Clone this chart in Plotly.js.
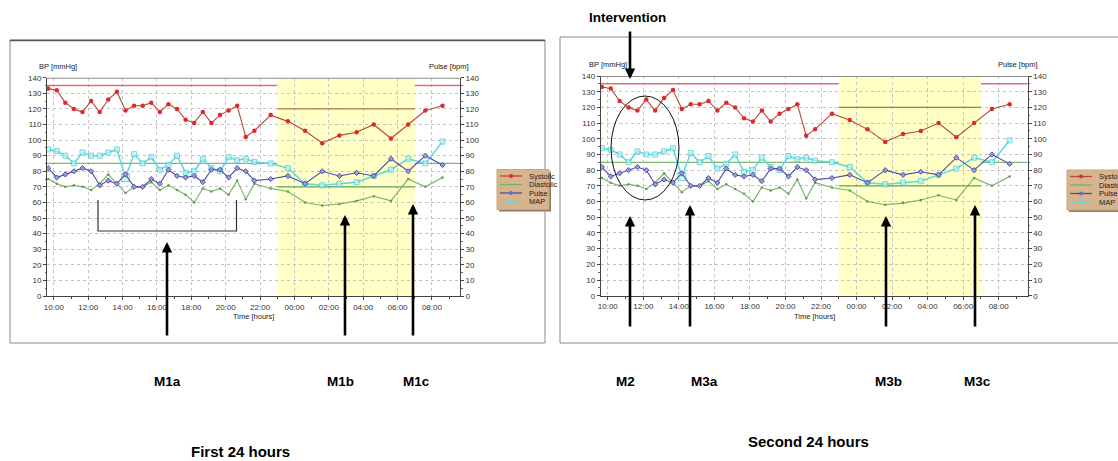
<!DOCTYPE html>
<html><head><meta charset="utf-8">
<script src="https://cdn.plot.ly/plotly-3.0.1.min.js"></script>
<style>html,body{margin:0;padding:0;background:#fff;}#chart{width:1118px;height:461px;}</style>
</head><body><div id="chart"></div>
<script>
// ---------------- data ----------------
const seriesNames = ['Systolic', 'Diastolic', 'Pulse', 'MAP'];
const times = ['09:40','10:10','10:40','11:10','11:40','12:10','12:40','13:10','13:40','14:10',
               '14:40','15:10','15:40','16:10','16:40','17:10','17:40','18:10','18:40','19:10',
               '19:40','20:10','20:40','21:10','21:40','22:37','23:37','00:37','01:37','02:37',
               '03:37','04:37','05:37','06:37','07:37','08:37'];
const systolic  = [133,132,124,120,118,125,118,126,131,119,122,122,124,118,123,120,113,111,118,111,
                   116,119,122,102,106,116,112,106,98,103,105,110,101,110,119,122];
const diastolic = [75,72,70,71,70,68,72,78,72,66,70,70,73,68,71,68,65,60,69,67,
                   69,65,74,62,72,69,67,60,58,59,61,64,61,75,70,76];
const pulse     = [82,76,78,80,82,80,71,74,72,78,70,70,75,72,81,77,76,77,73,81,
                   81,76,82,80,74,75,77,72,80,77,79,77,88,80,90,84];
const meanArterial = [94,93,90,85,92,90,90,92,94,76,91,85,89,81,84,90,79,80,88,82,
                   80,89,87,88,86,85,82,72,71,72,73,77,81,88,85,99];
const tickLabels = ['10:00','12:00','14:00','16:00','18:00','20:00','22:00','00:00','02:00','04:00','06:00','08:00'];
const dayLimits   = [135, 85];   // systolic, diastolic
const nightLimits = [120, 70];
const nightPeriod = ['23:00', '07:00'];
const axisRange   = ['2000-01-01 09:36', '2000-01-02 09:38'];
const yTitles = ['BP [mmHg]', 'Pulse [bpm]'];
const xTitle = 'Time [hours]';
const panelTitles = ['First 24 hours', 'Second 24 hours'];
const markerLabels = ['M1a', 'M1b', 'M1c', 'M2', 'M3a', 'M3b', 'M3c'];
const interventionLabel = 'Intervention';

// ---------------- helpers ----------------
const W = 1118, H = 461;
const px = x => x / W;
const py = y => 1 - y / H;
function toDate(t) {
  const h = parseInt(t.split(':')[0], 10);
  return (h < 9 ? '2000-01-02 ' : '2000-01-01 ') + t;
}
const xs = times.map(toDate);
const nightStart = toDate(nightPeriod[0]), nightEnd = toDate(nightPeriod[1]);
const FONT = 'Liberation Sans, Arial, sans-serif';

const colors = {
  sysLine: '#b5483c', sysMark: '#e02a2a',
  diaLine: '#74b266', diaMark: '#5aa04e',
  pulLine: '#4c4ca6', pulMark: '#9a9ade',
  mapLine: '#5ad9e0', mapMark: '#bff2f5'
};

const traces = [];
const shapes = [];
const annotations = [];

[0, 1].forEach(p => {
  const xa = p ? 'x2' : 'x';
  const ya = p ? 'y2' : 'y';
  const yr = p ? 'y4' : 'y3';
  traces.push({
    x: xs, y: systolic, name: seriesNames[0], xaxis: xa, yaxis: ya, mode: 'lines+markers',
    line: {color: colors.sysLine, width: 1.1},
    marker: {symbol: 'circle', size: 4.5, color: colors.sysMark}, showlegend: false
  });
  traces.push({
    x: xs, y: diastolic, name: seriesNames[1], xaxis: xa, yaxis: ya, mode: 'lines+markers',
    line: {color: colors.diaLine, width: 1.1},
    marker: {symbol: 'circle', size: 2.5, color: colors.diaMark}, showlegend: false
  });
  traces.push({
    x: xs, y: meanArterial, name: seriesNames[3], xaxis: xa, yaxis: ya, mode: 'lines+markers',
    line: {color: colors.mapLine, width: 1.5},
    marker: {symbol: 'square', size: meanArterial.map((v, i) => i === 9 ? 8 : 5),
             color: colors.mapMark, line: {color: '#40c8d0', width: 1}}, showlegend: false
  });
  traces.push({
    x: xs, y: pulse, name: seriesNames[2], xaxis: xa, yaxis: yr, mode: 'lines+markers',
    line: {color: colors.pulLine, width: 1.1},
    marker: {symbol: 'diamond', size: 4, color: colors.pulMark, line: {color: '#3a3a90', width: 0.8}},
    showlegend: false
  });

  // night shading
  shapes.push({type: 'rect', xref: xa, yref: ya, x0: nightStart, x1: nightEnd, y0: 0, y1: 140,
               fillcolor: '#ffffc6', line: {width: 0}, layer: 'below'});
  // limit lines
  const seg = (x0, x1, y, c, w) => shapes.push({type: 'line', xref: xa, yref: ya, x0, x1, y0: y, y1: y,
               line: {color: c, width: w}, layer: 'between'});
  seg(axisRange[0], nightStart, dayLimits[0], '#e07070', 1.5);
  seg(nightEnd, axisRange[1], dayLimits[0], '#e07070', 1.5);
  seg(nightStart, nightEnd, nightLimits[0], '#a87a40', 1.4);
  seg(axisRange[0], nightStart, dayLimits[1], '#80b872', 1.2);
  seg(nightEnd, axisRange[1], dayLimits[1], '#80b872', 1.2);
  seg(nightStart, nightEnd, nightLimits[1], '#62a656', 1.2);
  // top frame
  shapes.push({type: 'line', xref: xa + ' domain', yref: ya, x0: 0, x1: 1, y0: 140, y1: 140,
               line: {color: '#8c8c8c', width: 2}, layer: 'above'});
});

// panel borders
shapes.push({type: 'rect', xref: 'paper', yref: 'paper', x0: px(10), x1: px(545), y0: py(343), y1: py(40),
             line: {color: '#8a8a8a', width: 1}});
shapes.push({type: 'line', xref: 'paper', yref: 'paper', x0: px(10), x1: px(545), y0: py(40.5), y1: py(40.5),
             line: {color: '#555', width: 1.5}});
shapes.push({type: 'rect', xref: 'paper', yref: 'paper', x0: px(560), x1: px(1130), y0: py(343), y1: py(37),
             line: {color: '#8a8a8a', width: 1}});

// axis-title texts inside each panel
const panelGeo = [
  {bpX: 37, pulX: 471, y: 67, timeX: 253},
  {bpX: 587, pulX: 1040, y: 65, timeX: 814}
];
panelGeo.forEach(g => {
  annotations.push({xref: 'paper', yref: 'paper', x: px(g.bpX), y: py(g.y), text: yTitles[0], showarrow: false,
                    xanchor: 'left', yanchor: 'middle', font: {family: FONT, size: 7.5, color: '#222'}});
  annotations.push({xref: 'paper', yref: 'paper', x: px(g.pulX), y: py(g.y), text: yTitles[1], showarrow: false,
                    xanchor: 'right', yanchor: 'middle', font: {family: FONT, size: 7.5, color: '#222'}});
  annotations.push({xref: 'paper', yref: 'paper', x: px(g.timeX), y: py(316), text: xTitle, showarrow: false,
                    xanchor: 'center', yanchor: 'middle', font: {family: FONT, size: 7.5, color: '#222'}});
});

// manual legends (the right one runs off the page edge, as in the reference)
const legendStyle = [
  {line: colors.sysLine, mark: colors.sysMark},
  {line: colors.diaLine, mark: null},
  {line: colors.pulLine, mark: '#6a6ac8'},
  {line: colors.mapLine, mark: '#5ee0e6'}
];
[{x: 497, y: 169.5, w: 52}, {x: 1067, y: 170, w: 70}].forEach(b => {
  shapes.push({type: 'rect', xref: 'paper', yref: 'paper', x0: px(b.x + 2), x1: px(b.x + b.w + 2),
               y0: py(b.y + 42), y1: py(b.y + 2), fillcolor: '#8f7f66', line: {width: 0}});
  shapes.push({type: 'rect', xref: 'paper', yref: 'paper', x0: px(b.x), x1: px(b.x + b.w),
               y0: py(b.y + 40), y1: py(b.y), fillcolor: '#d7b48e', line: {color: '#c9a57d', width: 1}});
  seriesNames.forEach((n, i) => {
    const ry = b.y + 6.5 + i * 8.5;
    const st = legendStyle[i];
    shapes.push({type: 'line', xref: 'paper', yref: 'paper', x0: px(b.x + 3), x1: px(b.x + 25),
                 y0: py(ry), y1: py(ry), line: {color: st.line, width: 1.3}});
    if (st.mark) {
      shapes.push({type: 'circle', xref: 'paper', yref: 'paper', x0: px(b.x + 12), x1: px(b.x + 16),
                   y0: py(ry + 2), y1: py(ry - 2), fillcolor: st.mark, line: {color: st.mark, width: 0}});
    }
    annotations.push({xref: 'paper', yref: 'paper', x: px(b.x + 30), y: py(ry), text: n, showarrow: false,
                      xanchor: 'left', yanchor: 'middle', font: {family: FONT, size: 7.5, color: '#222'}});
  });
});

// bracket (left panel) and ellipse (right panel)
shapes.push({type: 'path', xref: 'paper', yref: 'paper',
             path: `M ${px(98)},${py(200)} L ${px(98)},${py(231)} L ${px(236.5)},${py(231)} L ${px(236.5)},${py(200)}`,
             line: {color: '#333', width: 1.2}});
shapes.push({type: 'circle', xref: 'paper', yref: 'paper', x0: px(611), x1: px(679), y0: py(200), y1: py(96),
             line: {color: '#111', width: 1}});

// arrows
function arrow(xTip, yTip, yTail) {
  annotations.push({xref: 'paper', yref: 'paper', x: px(xTip), y: py(yTip), ax: 0, ay: yTail - yTip,
                    text: '', showarrow: true, arrowhead: 2, arrowwidth: 2.6, arrowsize: 0.8,
                    arrowcolor: '#000', standoff: 0});
}
arrow(167, 242, 337);
arrow(345, 215, 337);
arrow(413, 204, 337);
arrow(630, 216, 328);
arrow(690, 205, 328);
arrow(886, 216, 328);
arrow(975, 205, 328);
arrow(630, 79, 30);

// bold labels
const labelPos = [[167, 381], [340, 381], [416, 381], [625, 381], [704, 381], [888, 381], [977, 381]];
markerLabels.forEach((t, i) => {
  annotations.push({xref: 'paper', yref: 'paper', x: px(labelPos[i][0]), y: py(labelPos[i][1]), text: '<b>' + t + '</b>',
                    showarrow: false, xanchor: 'center', yanchor: 'middle', font: {family: FONT, size: 13.5, color: '#000'}});
});
annotations.push({xref: 'paper', yref: 'paper', x: px(627), y: py(18), text: '<b>' + interventionLabel + '</b>',
                  showarrow: false, xanchor: 'center', yanchor: 'middle', font: {family: FONT, size: 13.5, color: '#000'}});
annotations.push({xref: 'paper', yref: 'paper', x: px(240), y: py(451), text: '<b>' + panelTitles[0] + '</b>',
                  showarrow: false, xanchor: 'center', yanchor: 'middle', font: {family: FONT, size: 15, color: '#000'}});
annotations.push({xref: 'paper', yref: 'paper', x: px(808), y: py(441), text: '<b>' + panelTitles[1] + '</b>',
                  showarrow: false, xanchor: 'center', yanchor: 'middle', font: {family: FONT, size: 15, color: '#000'}});

// ---------------- axes ----------------
const tickFont = {family: FONT, size: 8, color: '#333'};
function xAxis(d0, d1, anchor) {
  return {
    type: 'date', domain: [px(d0), px(d1)], anchor, range: axisRange,
    tickmode: 'array', tickvals: tickLabels.map(toDate), ticktext: tickLabels,
    ticks: 'outside', ticklen: 3, tickcolor: '#444', tickfont: tickFont,
    showgrid: true, gridcolor: '#c4c4c4', griddash: 'dot', gridwidth: 1,
    showline: true, linecolor: '#444', linewidth: 1, zeroline: false,
    minor: {tick0: '2000-01-01 09:00', dtick: 3600000, ticks: 'outside', ticklen: 2, tickcolor: '#444', showgrid: false},
    fixedrange: true
  };
}
function yAxis(top, bottom, anchor, extra) {
  return Object.assign({
    domain: [py(bottom), py(top)], anchor, range: [0, 140], dtick: 10, tick0: 0,
    ticks: 'outside', ticklen: 3, tickcolor: '#444', tickfont: tickFont,
    showgrid: true, gridcolor: '#c4c4c4', griddash: 'dot', gridwidth: 1,
    showline: true, linecolor: '#444', linewidth: 1, zeroline: false,
    minor: {dtick: 5, ticks: 'outside', ticklen: 1.5, tickcolor: '#666', showgrid: false},
    fixedrange: true
  }, extra || {});
}

const layout = {
  width: W, height: H, margin: {l: 0, r: 0, t: 0, b: 0},
  paper_bgcolor: '#ffffff', plot_bgcolor: '#ffffff', showlegend: false,
  xaxis: xAxis(47, 460, 'y'),
  xaxis2: xAxis(600.7, 1027.7, 'y2'),
  yaxis: yAxis(77.7, 296, 'x'),
  yaxis2: yAxis(76, 295.7, 'x2'),
  yaxis3: yAxis(77.7, 296, 'x', {overlaying: 'y', side: 'right', showgrid: false}),
  yaxis4: yAxis(76, 295.7, 'x2', {overlaying: 'y2', side: 'right', showgrid: false}),
  shapes, annotations
};

Plotly.newPlot('chart', traces, layout, {displayModeBar: false, staticPlot: true});
</script>
</body></html>
